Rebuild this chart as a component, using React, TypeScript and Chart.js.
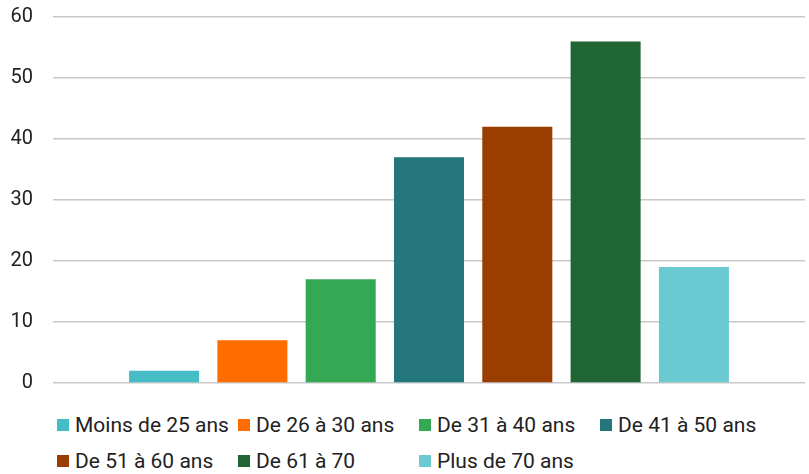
import React, { useEffect, useRef } from "react";
import { Chart, registerables } from "chart.js";

Chart.register(...registerables);

const categories = [""];
const seriesLabels = [
  "Moins de 25 ans",
  "De 26 à 30 ans",
  "De 31 à 40 ans",
  "De 41 à 50 ans",
  "De 51 à 60 ans",
  "De 61 à 70",
  "Plus de 70 ans",
];
const seriesValues = [2, 7, 17, 37, 42, 56, 19];
const seriesColors = [
  "#46BDC6",
  "#FF6D01",
  "#34A853",
  "#23767B",
  "#993E00",
  "#1F6634",
  "#6BCAD1",
];
const yMin = 0;
const yMax = 60;
const yStep = 10;

const FONT = "Roboto, 'Noto Sans', sans-serif";

export default function App() {
  const canvasRef = useRef<HTMLCanvasElement>(null);

  useEffect(() => {
    if (!canvasRef.current) return;
    const chart = new Chart(canvasRef.current, {
      type: "bar",
      data: {
        labels: categories,
        datasets: seriesLabels.map((label, i) => ({
          label,
          data: [seriesValues[i]],
          backgroundColor: seriesColors[i],
          borderWidth: 0,
          categoryPercentage: 0.822,
          barPercentage: 0.793,
        })),
      },
      options: {
        responsive: false,
        animation: false,
        devicePixelRatio: 1,
        layout: { padding: { top: 17, right: 4, bottom: 17, left: 0 } },
        plugins: {
          legend: { display: false },
          tooltip: { enabled: false },
        },
        scales: {
          x: {
            display: false,
            grid: { display: false },
          },
          y: {
            min: yMin,
            max: yMax,
            ticks: {
              stepSize: yStep,
              padding: 0,
              color: "#222222",
              font: { family: FONT, size: 20 },
            },
            grid: {
              color: "#c8c8c8",
              lineWidth: 1.5,
              drawTicks: true,
              tickLength: 20,
              tickColor: "rgba(0,0,0,0)",
            },
            border: { display: false },
            afterFit: (scale: any) => {
              scale.width = 53;
            },
          },
        },
      },
    });
    return () => chart.destroy();
  }, []);

  return (
    <div
      style={{
        position: "absolute",
        left: 0,
        top: 0,
        width: 809,
        height: 474,
        background: "#fff",
        fontFamily: FONT,
      }}
    >
      <canvas
        ref={canvasRef}
        width={809}
        height={400}
        style={{ position: "absolute", left: 0, top: 0, width: 809, height: 400 }}
      />
      <div
        style={{
          position: "absolute",
          left: 57,
          top: 407,
          display: "grid",
          gridTemplateColumns: "repeat(4, 181px)",
          gridAutoRows: "36px",
          fontSize: 21,
          color: "#222222",
        }}
      >
        {seriesLabels.map((label, i) => (
          <div
            key={label}
            style={{ display: "flex", alignItems: "center", whiteSpace: "nowrap" }}
          >
            <span
              style={{
                display: "inline-block",
                width: 12,
                height: 12,
                background: seriesColors[i],
                marginRight: 6,
                flex: "none",
              }}
            />
            <span>{label}</span>
          </div>
        ))}
      </div>
    </div>
  );
}
